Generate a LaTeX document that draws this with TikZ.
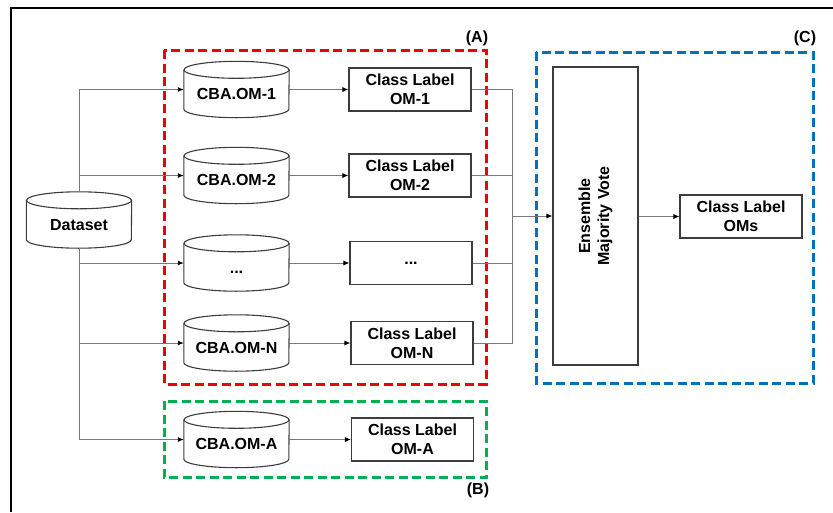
\documentclass[tikz,border=0pt]{standalone}
\usepackage{fontspec}
\setmainfont{Liberation Sans}
\usetikzlibrary{arrows.meta}
\definecolor{redbox}{RGB}{240,0,0}
\definecolor{greenbox}{RGB}{0,176,80}
\definecolor{bluebox}{RGB}{0,112,192}
\definecolor{conn}{RGB}{120,120,120}
\definecolor{edge}{RGB}{60,60,60}
\tikzset{
  cylbox/.style={minimum width=105pt, minimum height=56pt, inner sep=0pt, text height=20.5pt, text depth=0pt},
  cylline/.style={draw=edge, line width=1.1pt},
  labbox/.style={draw=edge, line width=1.1pt, minimum width=122pt, minimum height=43pt, inner sep=0pt, align=center},
  grp/.style={line width=3pt, dash pattern=on 9pt off 4.5pt},
  conline/.style={draw=conn, line width=0.9pt},
  arr/.style={conline, -{Latex[length=6pt,width=5pt,color=black]}},
}
\newcommand\cylnode[4]{%
  \node[cylbox] (#1) at (#2,#3) {#4};
  \draw[cylline] ([yshift=-8.5pt]#1.north) ellipse [x radius=52.5pt, y radius=8.5pt];
  \draw[cylline] ([yshift=-8.5pt]#1.north west) -- ([yshift=8.5pt]#1.south west)
     arc[start angle=180, end angle=360, x radius=52.5pt, y radius=8.5pt]
     -- ([yshift=-8.5pt]#1.north east);
}
\begin{document}
\begin{tikzpicture}[x=1pt, y=-1pt, font=\fontsize{16}{19}\selectfont\bfseries]
\useasboundingbox (0,0) rectangle (833,512);
% outer frame
\draw[line width=1.3pt] (833,8) -- (11,8) -- (11,512);

% group frames
\draw[grp, draw=redbox] (164,50) rectangle (486,384);
\draw[grp, draw=greenbox] (164,401) rectangle (486,477);
\draw[grp, draw=bluebox] (536,52) rectangle (813,383);
\node (A) at (477,38) {(A)};
\node (B) at (478,490) {(B)};
\node (C) at (805,38) {(C)};

% nodes
\cylnode{d}{79}{220}{Dataset}
\cylnode{c1}{236.5}{89.5}{CBA.OM-1}
\cylnode{c2}{236.5}{175.5}{CBA.OM-2}
\cylnode{c3}{236.5}{263}{...}
\cylnode{cN}{236.5}{343}{CBA.OM-N}
\cylnode{cA}{236.5}{439.5}{CBA.OM-A}

\node[labbox] (l1) at (410,89.5) {Class Label\\OM-1};
\node[labbox] (l2) at (410,175.5) {Class Label\\OM-2};
\node[labbox] (l3) at (411,263) {...};
\node[labbox] (lN) at (412,343) {Class Label\\OM-N};
\node[labbox] (lA) at (412.5,439.5) {Class Label\\OM-A};

\node[draw=edge, line width=1.1pt, minimum width=85pt, minimum height=298pt, inner sep=0pt] (e) at (595.5,216) {};
\node[rotate=90, align=center] (et) at (e.center) {Ensemble\\Majority Vote};
\node[labbox] (oms) at (741,216.5) {Class Label\\OMs};

% connectors
\draw[arr] (d.north) |- (c1.west);
\draw[arr] (d.north) |- (c2.west);
\draw[arr] (d.south) |- (c3.west);
\draw[arr] (d.south) |- (cN.west);
\draw[arr] (d.south) |- (cA.west);

\draw[arr] (c1) -- (l1);
\draw[arr] (c2) -- (l2);
\draw[arr] (c3) -- (l3);
\draw[arr] (cN) -- (lN);
\draw[arr] (cA) -- (lA);

\coordinate (j) at (512,216);
\draw[conline] (l1.east) -| (j);
\draw[conline] (l2.east) -| (j);
\draw[conline] (l3.east) -| (j);
\draw[conline] (lN.east) -| (j);
\draw[arr] (j) -- (e.west |- j);
\draw[arr] (e.east |- oms.west) -- (oms.west);
\end{tikzpicture}
\end{document}
